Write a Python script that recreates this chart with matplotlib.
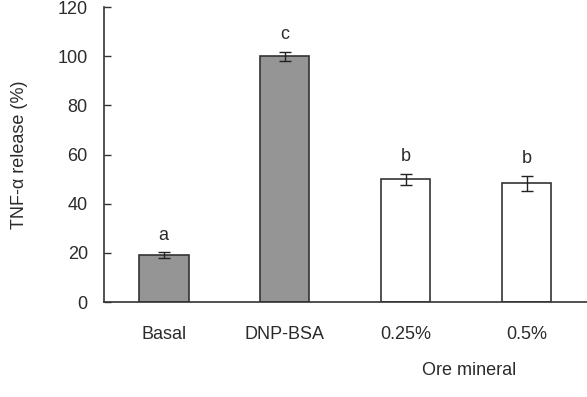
import matplotlib
matplotlib.use("Agg")
import matplotlib.pyplot as plt

# data
groups = ["Basal", "DNP-BSA", "0.25%", "0.5%"]
release = [19, 100, 50, 48.3]
sem = [1.2, 1.8, 2.2, 3.0]
letters = ["a", "c", "b", "b"]
fills = ["#959595", "#959595", "white", "white"]

plt.rcParams['font.family'] = ['Liberation Sans', 'DejaVu Sans']
plt.rcParams['font.size'] = 13
txt = "#2b2b2b"

fig = plt.figure(figsize=(5.87, 3.97), dpi=100)
ax = fig.add_axes([0.178, 0.239, 0.822, 0.743])

x = list(range(len(groups)))
ax.bar(x, release, width=0.41, color=fills, edgecolor="#333333", linewidth=1.2, zorder=2)
ax.errorbar(x, release, yerr=sem, fmt="none", ecolor="#222222", elinewidth=1.0,
            capsize=4.3, capthick=1.0, zorder=3)
for xi, v, e, s in zip(x, release, sem, letters):
    ax.text(xi, v + e + 3.5, s, ha="center", va="bottom", color=txt, fontsize=13)

ax.set_xlim(-0.49, 3.5)
ax.set_ylim(0, 120)
ax.set_yticks(range(0, 121, 20))
ax.set_xticks(x)
ax.set_xticklabels(groups, color=txt)
ax.tick_params(axis="x", length=0, pad=17)
ax.tick_params(axis="y", direction="in", length=5, width=1, colors="#333333", labelcolor=txt, pad=12)
for side in ["top", "right"]:
    ax.spines[side].set_visible(False)
for side in ["left", "bottom"]:
    ax.spines[side].set_color("#333333")
    ax.spines[side].set_linewidth(1.2)

ax.set_ylabel("TNF-α release (%)", color=txt, labelpad=21)
fig.text(0.80, 0.068, "Ore mineral", ha="center", va="center", color=txt, fontsize=13)

fig.savefig("out.png", dpi=100)
